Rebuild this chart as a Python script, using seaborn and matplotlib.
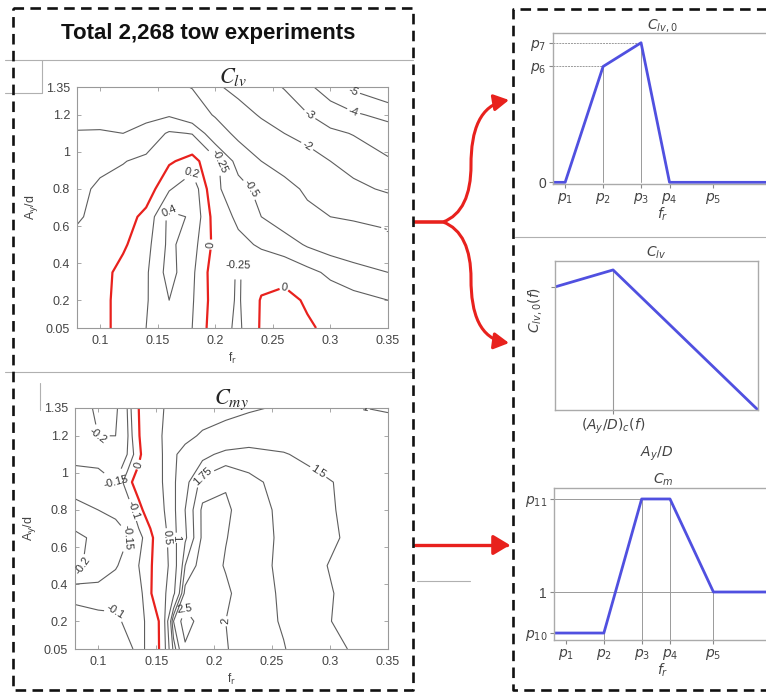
# Clv / Cmy tow-experiment contours with the piecewise model sketches
import numpy as np
import seaborn as sns
import matplotlib.pyplot as plt
from matplotlib.lines import Line2D
from matplotlib.patches import FancyArrowPatch
from matplotlib.path import Path
from matplotlib.ticker import FormatStrFormatter

sns.set_theme(style="white")
plt.rcParams["font.family"] = ["Liberation Sans", "DejaVu Sans"]
plt.rcParams["axes.unicode_minus"] = False

# ---- contour data ----
clv_f = [0.08, 0.10, 0.12, 0.14, 0.16, 0.18, 0.20, 0.22, 0.24, 0.26, 0.28, 0.30, 0.32, 0.35]
clv_a = [0.05, 0.2, 0.35, 0.5, 0.65, 0.8, 0.95, 1.1, 1.2, 1.35]
clv_values = [
    [-0.15, -0.06, 0.07, 0.20, 0.35, 0.20, -0.12, -0.30, 0.03, 0.10, 0.03, -0.05, -0.10, -0.15],
    [-0.15, -0.06, 0.07, 0.18, 0.40, 0.22, -0.10, -0.28, 0.02, 0.07, -0.03, -0.12, -0.18, -0.25],
    [-0.16, -0.07, 0.06, 0.17, 0.48, 0.24, -0.12, -0.27, -0.10, -0.08, -0.18, -0.30, -0.38, -0.50],
    [-0.20, -0.12, -0.03, 0.13, 0.45, 0.28, -0.06, -0.19, -0.28, -0.38, -0.53, -0.63, -0.72, -0.85],
    [-0.27, -0.20, -0.10, 0.06, 0.45, 0.38, -0.10, -0.30, -0.50, -0.65, -0.85, -1.00, -1.05, -1.12],
    [-0.28, -0.23, -0.17, -0.12, 0.18, 0.35, -0.20, -0.40, -0.58, -0.80, -1.10, -1.40, -1.75, -2.15],
    [-0.40, -0.28, -0.26, -0.20, -0.03, 0.08, -0.18, -0.60, -1.00, -1.25, -1.50, -2.00, -2.40, -2.90],
    [-0.48, -0.47, -0.50, -0.40, -0.22, -0.26, -0.70, -1.15, -1.60, -2.00, -2.40, -2.80, -3.05, -3.50],
    [-0.60, -0.62, -0.65, -0.58, -0.53, -0.70, -1.05, -1.60, -2.10, -2.50, -2.95, -3.50, -3.85, -4.30],
    [-0.75, -0.78, -0.80, -0.82, -0.88, -1.02, -1.85, -2.30, -2.65, -3.05, -3.80, -4.50, -5.20, -5.90],
]
clv_levels = [-5, -4, -3, -2, -1, -0.5, -0.25, 0.2, 0.4]

cmy_f = [0.08, 0.10, 0.115, 0.125, 0.135, 0.145, 0.155, 0.165, 0.175, 0.19, 0.21, 0.23, 0.26, 0.29, 0.32, 0.35]
cmy_a = [0.05, 0.2, 0.35, 0.5, 0.65, 0.8, 0.95, 1.1, 1.2, 1.35]
cmy_values = [
    [-0.05, -0.06, -0.08, -0.09, -0.11, -0.09, 0.03, 1.60, 2.40, 2.15, 2.02, 1.85, 1.76, 1.60, 1.48, 1.40],
    [-0.07, -0.08, -0.09, -0.11, -0.12, -0.08, 0.03, 2.00, 2.80, 2.20, 2.00, 1.85, 1.73, 1.53, 1.45, 1.38],
    [-0.12, -0.13, -0.12, -0.12, -0.13, -0.03, 0.30, 0.90, 2.10, 2.20, 2.05, 1.85, 1.72, 1.54, 1.45, 1.38],
    [-0.21, -0.18, -0.155, -0.13, -0.10, -0.03, 0.20, 0.75, 1.75, 2.15, 1.98, 1.85, 1.70, 1.52, 1.44, 1.38],
    [-0.21, -0.19, -0.17, -0.152, -0.12, -0.06, 0.20, 0.85, 1.45, 2.05, 2.01, 1.88, 1.70, 1.58, 1.45, 1.38],
    [-0.17, -0.15, -0.14, -0.14, -0.06, 0.12, 0.40, 0.90, 1.50, 2.05, 2.05, 1.85, 1.70, 1.56, 1.44, 1.38],
    [-0.12, -0.13, -0.15, -0.07, 0.10, 0.30, 0.48, 0.92, 1.40, 1.85, 1.97, 1.80, 1.68, 1.56, 1.42, 1.35],
    [-0.17, -0.17, -0.18, -0.15, -0.06, 0.25, 0.48, 0.95, 1.12, 1.40, 1.60, 1.65, 1.52, 1.40, 1.35, 1.30],
    [-0.15, -0.20, -0.20, -0.16, -0.02, 0.30, 0.50, 0.75, 0.90, 1.05, 1.15, 1.25, 1.35, 1.38, 1.30, 1.20],
    [-0.17, -0.21, -0.21, -0.15, 0.00, 0.25, 0.48, 0.60, 0.70, 0.80, 0.88, 0.95, 1.05, 1.10, 1.02, 0.96],
]
cmy_levels = [-0.2, -0.15, -0.1, 0.5, 1, 1.5, 1.75, 2, 2.5]

map_xticks = [0.1, 0.15, 0.2, 0.25, 0.3, 0.35]
map_yticks = [0.05, 0.2, 0.4, 0.6, 0.8, 1, 1.2, 1.35]

# ---- model sketches ----
p_ticks = [1.0, 2.0, 3.0, 3.75, 4.9]
p_labels = ["$p_1$", "$p_2$", "$p_3$", "$p_4$", "$p_5$"]
p6, p7 = 0.83, 1.0
clv0_x = [0.68, 1.0, 2.0, 3.0, 3.75, 6.45]
clv0_y = [0, 0, p6, p7, 0, 0]

clv_x = [0.0, 0.286, 1.0]
clv_y = [0.826, 0.94, 0.0]

p10, p11 = 0.6, 1.907
cm_x = [0.68, 2.0, 3.0, 3.75, 4.9, 6.45]
cm_y = [p10, p10, p11, p11, 1.0, 1.0]

W, H = 766, 694
RED = "#e8211d"
BLUE = "#5050e0"
GUIDE = "#9a9a9a"

fig = plt.figure(figsize=(W / 100, H / 100), dpi=100)


def rect(l, t, r, b):
    return [l / W, 1 - b / H, (r - l) / W, (b - t) / H]


def fig_line(xs, ys, **kw):
    fig.add_artist(Line2D([x / W for x in xs], [1 - y / H for y in ys],
                          transform=fig.transFigure, **kw))


def contour_panel(r, f, a, z, levels, title):
    ax = fig.add_axes(r)
    F, A = np.meshgrid(f, a)
    Z = np.array(z)
    cs = ax.contour(F, A, Z, levels=levels, colors="#5e5e5e", linewidths=0.8,
                    linestyles="solid")
    ax.clabel(cs, inline=True, fontsize=8, fmt="%g", inline_spacing=2, colors="#333")
    cz = ax.contour(F, A, Z, levels=[0], colors=RED, linewidths=1.6, linestyles="solid")
    ax.clabel(cz, inline=True, fontsize=8, fmt="%g", inline_spacing=2, colors="#333")
    ax.set_xlim(0.08, 0.35)
    ax.set_ylim(0.05, 1.35)
    ax.set_xticks(map_xticks)
    ax.set_yticks(map_yticks)
    ax.xaxis.set_major_formatter(FormatStrFormatter("%g"))
    ax.yaxis.set_major_formatter(FormatStrFormatter("%g"))
    ax.tick_params(direction="in", length=3, width=0.6, color="#999", labelcolor="#444",
                   labelsize=9, top=True, right=True, bottom=True, left=True, pad=5)
    for s in ax.spines.values():
        s.set_color("#999")
        s.set_linewidth(0.8)
    ax.set_xlabel("f$_{\\rm r}$", fontsize=8.5, color="#444", labelpad=3)
    ax.set_ylabel("A$_{\\rm y}$/d", fontsize=9, color="#444", labelpad=4)
    ax.set_title(title, fontsize=16, math_fontfamily="stix", pad=3)
    return ax


contour_panel(rect(77, 87, 388, 328), clv_f, clv_a, clv_values, clv_levels, r"$C_{lv}$")
contour_panel(rect(75, 408, 388, 649), cmy_f, cmy_a, cmy_values, cmy_levels, r"$C_{my}$")


def sketch_axes(r):
    ax = fig.add_axes(r)
    for s in ax.spines.values():
        s.set_color("#aaa")
        s.set_linewidth(1.0)
    ax.tick_params(bottom=True, left=True, length=3, width=0.8, color="#888",
                   labelcolor="#444", labelsize=10, pad=2)
    return ax


# top right: Clv,0 vs fr
ax1 = sketch_axes(rect(553, 33, 772, 184))
ax1.plot([p_ticks[1], p_ticks[1]], [0, p6], color=GUIDE, lw=0.7)
ax1.plot([p_ticks[2], p_ticks[2]], [0, p7], color=GUIDE, lw=0.7)
ax1.plot([clv0_x[0], p_ticks[1]], [p6, p6], color=GUIDE, lw=0.7, ls=(0, (2, 1)))
ax1.plot([clv0_x[0], p_ticks[2]], [p7, p7], color=GUIDE, lw=0.7, ls=(0, (2, 1)))
sns.lineplot(x=clv0_x, y=clv0_y, ax=ax1, color=BLUE, linewidth=2, sort=False)
ax1.set_xlim(clv0_x[0], clv0_x[-1])
ax1.set_ylim(-0.012, 1.07)
ax1.set_xticks(p_ticks)
ax1.set_xticklabels(p_labels)
ax1.set_yticks([0, p6, p7])
ax1.set_yticklabels(["0", "$p_6$", "$p_7$"])
ax1.set_xlabel("$f_r$", fontsize=10, color="#444", labelpad=0)
ax1.set_title("$C_{lv,0}$", fontsize=10, color="#444", pad=3)

# middle right: Clv vs Ay/D
ax2 = sketch_axes(rect(555, 261, 758, 410))
ax2.plot([clv_x[1], clv_x[1]], [0, clv_y[1]], color=GUIDE, lw=0.8)
sns.lineplot(x=clv_x, y=clv_y, ax=ax2, color=BLUE, linewidth=2, sort=False)
ax2.set_xlim(0, 1)
ax2.set_ylim(0, 1)
ax2.set_xticks([clv_x[1]])
ax2.set_xticklabels(["$(A_y/D)_c(f)$"])
ax2.set_yticks([clv_y[0]])
ax2.set_yticklabels([""])
ax2.text(-0.1, 0.67, "$C_{lv,0}(f)$", transform=ax2.transAxes, rotation=90,
         ha="center", va="center", fontsize=10, color="#444")
ax2.set_xlabel("$A_y/D$", fontsize=10, color="#444", labelpad=6)
ax2.set_title("$C_{lv}$", fontsize=10, color="#444", pad=3)

# bottom right: Cm vs fr
ax3 = sketch_axes(rect(554, 488, 772, 640))
ax3.axhline(1.0, color=GUIDE, lw=0.7)
ax3.plot([cm_x[0], p_ticks[3]], [p11, p11], color=GUIDE, lw=0.7)
ax3.plot([p_ticks[1], p_ticks[1]], [0, p10], color=GUIDE, lw=0.7)
ax3.plot([p_ticks[2], p_ticks[2]], [0, p11], color=GUIDE, lw=0.7)
ax3.plot([p_ticks[3], p_ticks[3]], [0, p11], color=GUIDE, lw=0.7)
ax3.plot([p_ticks[4], p_ticks[4]], [0, 1.0], color=GUIDE, lw=0.7)
sns.lineplot(x=cm_x, y=cm_y, ax=ax3, color=BLUE, linewidth=2, sort=False)
ax3.set_xlim(cm_x[0], cm_x[-1])
ax3.set_ylim(0.532, 2.014)
ax3.set_xticks(p_ticks)
ax3.set_xticklabels(p_labels)
ax3.set_yticks([p10, 1.0, p11])
ax3.set_yticklabels(["$p_{10}$", "1", "$p_{11}$"])
ax3.set_xlabel("$f_r$", fontsize=10, color="#444", labelpad=0)
ax3.set_title("$C_m$", fontsize=10, color="#444", pad=3)

# header
fig.text(208 / W, 1 - 33 / H, "Total 2,268 tow experiments", ha="center", va="center",
         fontsize=16, fontweight="bold", color="#111")

# faint separator lines left over from the pasted panels
thin = dict(color="#b0b0b0", lw=0.8)
fig_line([5, 413], [60, 60], **thin)
fig_line([42, 42], [60, 93], **thin)
fig_line([5, 42], [93, 93], **thin)
fig_line([5, 413], [372, 372], **thin)
fig_line([40, 40], [383, 410], **thin)
fig_line([515, 766], [237, 237], **thin)
fig_line([417, 470], [581, 581], **thin)

# dashed frames
dash = dict(color="#111", lw=1.9, dashes=(4, 2.4))
fig_line([13, 413, 413, 13, 13], [8, 8, 690, 690, 8], **dash)
fig_line([770, 513, 513, 770], [9, 9, 690, 690], **dash)


# red arrows
def fpts(seq):
    return [(x / W, 1 - y / H) for x, y in seq]


codes = [Path.MOVETO, Path.LINETO] + [Path.CURVE4] * 6
upper = Path(fpts([(415, 222), (443, 222), (462, 215), (471, 195), (471, 165),
                   (471, 130), (480, 105), (509, 100)]), codes)
lower = Path(fpts([(415, 222), (443, 222), (462, 229), (471, 249), (471, 279),
                   (471, 314), (480, 339), (509, 343)]), codes)
for pth in (upper, lower):
    fig.add_artist(FancyArrowPatch(path=pth, arrowstyle="-|>,head_length=9,head_width=5",
                                   color=RED, lw=2.2, transform=fig.transFigure))
fig.add_artist(FancyArrowPatch(path=Path(fpts([(415, 545), (510, 545)])),
                               arrowstyle="-|>,head_length=10,head_width=6",
                               color=RED, lw=2.4, transform=fig.transFigure))

fig.savefig("out.png", dpi=100)
